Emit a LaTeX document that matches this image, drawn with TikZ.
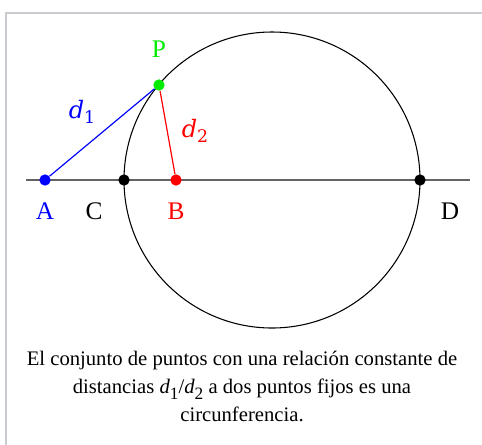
\documentclass[tikz,border=0pt]{standalone}
\usepackage{fontspec}
\setmainfont{Liberation Serif}
\newfontfamily\letrad{DejaVu Serif}
\usetikzlibrary{positioning}
\definecolor{marco}{RGB}{200,204,209}
\definecolor{gris}{RGB}{100,100,100}
\definecolor{verdeP}{RGB}{0,235,0}

\begin{document}
\begin{tikzpicture}[
    x=0.75pt, y=-0.75pt,
    punto/.style={circle, inner sep=0pt, minimum size=8.5pt},
    etiqueta/.style={anchor=base, font=\fontsize{19}{23}\selectfont},
    distancia/.style={anchor=base, font=\letrad\fontsize{18}{22}\selectfont},
    eje/.style={draw=gris, line width=1.1pt},
    segmento/.style={line width=0.9pt}
]
\useasboundingbox (0,0) rectangle (482,444);
\draw[marco, line width=0.9pt] (6,470) -- (6,13) -- (500,13);

\coordinate (izq) at (26,180);
\coordinate (der) at (470,180);
\coordinate (centro) at (272,180);

\draw[eje] (izq) -- (der);
\draw[line width=0.8pt] (centro) circle (111pt);

\node (A) [punto, fill=blue] at (45,180) {};
\node (C) [punto, fill=black] at (124,180) {};
\node (B) [punto, fill=red] at (176,180) {};
\node (D) [punto, fill=black] at (420,180) {};
\node (P) [punto, fill=verdeP] at (159,85) {};

\draw [segmento, blue] (A) -- (P);
\draw [segmento, red] (P) -- (B);

\node (lP) [etiqueta, text=verdeP] at (159,57) {P};
\node (lA) [etiqueta, text=blue] at (45,219) {A};
\node (lC) [etiqueta] at (94,219) {C};
\node (lB) [etiqueta, text=red] at (176,219) {B};
\node (lD) [etiqueta] at (450,219) {D};
\node (ld1) [distancia, text=blue] at (82,118) {\textit{d}\raisebox{-4pt}{\fontsize{13}{15}\selectfont 1}};
\node (ld2) [distancia, text=red] at (195,137) {\textit{d}\raisebox{-4pt}{\fontsize{13}{15}\selectfont 2}};

\node (leyenda) [align=center, font=\fontsize{15.5}{21}\selectfont] at (242,386)
    {El conjunto de puntos con una relación constante de\\
     distancias \textit{d}\raisebox{-5pt}{\fontsize{13}{15}\selectfont 1}/\textit{d}\raisebox{-5pt}{\fontsize{13}{15}\selectfont 2} a dos puntos fijos es una\\
     circunferencia.};

\end{tikzpicture}
\end{document}
